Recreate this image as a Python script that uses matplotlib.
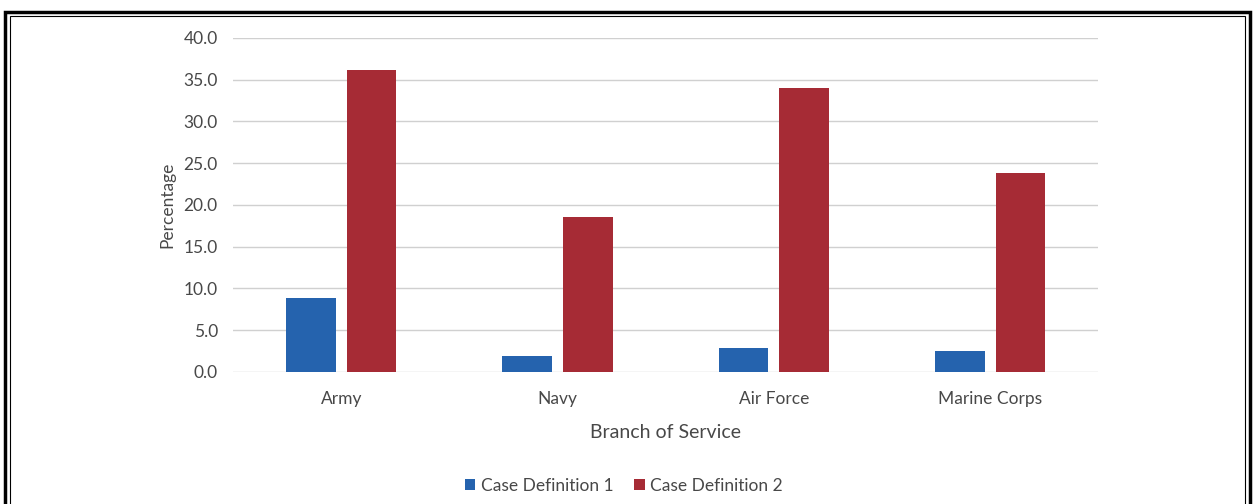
import matplotlib.pyplot as plt
import numpy as np
from matplotlib.patches import Rectangle

# Data
branches = ["Army", "Navy", "Air Force", "Marine Corps"]
case_def_1 = [8.8, 1.9, 2.9, 2.5]
case_def_2 = [36.2, 18.6, 34.0, 23.8]

blue = "#2563AE"
red = "#A62B35"
text_col = "#484848"

plt.rcParams['font.family'] = ['Lato', 'DejaVu Sans']

fig = plt.figure(figsize=(12.55, 5.04), dpi=100)
ax = fig.add_axes([0.1857, 0.262, 0.6895, 0.663])

x = np.arange(len(branches))
w = 0.23
ax.bar(x - 0.14, case_def_1, w, color=blue, label="Case Definition 1", zorder=3)
ax.bar(x + 0.14, case_def_2, w, color=red, label="Case Definition 2", zorder=3)

ax.set_xlim(-0.5, len(branches) - 0.5)
ax.set_ylim(0, 40)
ax.set_yticks(np.arange(0, 45, 5))
ax.set_yticklabels([f"{v:.1f}" for v in np.arange(0, 45, 5)])
ax.set_xticks(x)
ax.set_xticklabels(branches)
ax.tick_params(axis="both", length=0, labelsize=12.5, colors=text_col)
ax.tick_params(axis="y", pad=11)
ax.tick_params(axis="x", pad=14)
ax.grid(axis="y", color="#D0D0D0", linewidth=1, zorder=0)
for s in ax.spines.values():
    s.set_visible(False)

ax.set_xlabel("Branch of Service", fontsize=14, color=text_col, labelpad=12)
ax.set_ylabel("Percentage", fontsize=12.5, color=text_col, labelpad=6)

fig.legend(loc="center", bbox_to_anchor=(0.497, 0.036), ncol=2, frameon=False,
           fontsize=12.5, handlelength=0.6, handleheight=0.6, handletextpad=0.3,
           columnspacing=1.2, labelcolor=text_col)

# double black frame around the figure
fig.patches.append(Rectangle((5 / 1255, -0.1), 1245 / 1255, 1.1 - 12 / 504,
                             transform=fig.transFigure, fill=False,
                             edgecolor="black", linewidth=2.5))
fig.patches.append(Rectangle((10 / 1255, -0.1), 1235 / 1255, 1.1 - 16 / 504,
                             transform=fig.transFigure, fill=False,
                             edgecolor="black", linewidth=0.8))

fig.savefig("out.png", dpi=100)
